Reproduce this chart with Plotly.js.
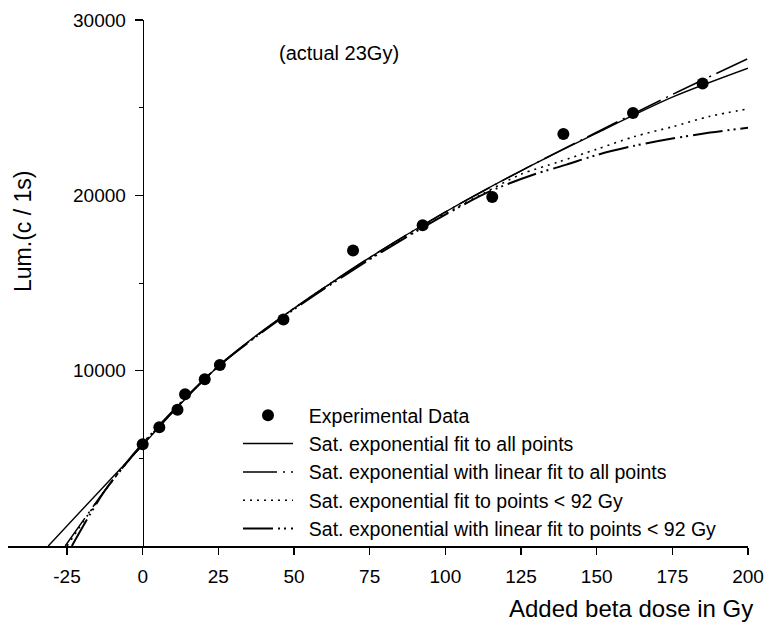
<!DOCTYPE html>
<html>
<head>
<meta charset="utf-8">
<script src="https://cdn.plot.ly/plotly-3.0.1.min.js"></script>
<style>
  html, body { margin: 0; padding: 0; background: #fff; }
  #chart { width: 770px; height: 633px; }
</style>
</head>
<body>
<div id="chart"></div>
<script>
// Measured luminescence against added beta dose
const doseData = [0, 5.5, 11.5, 14, 20.5, 25.5, 46.5, 69.5, 92.5, 115.5, 139, 162, 185];
const lumData  = [5800, 6770, 7770, 8660, 9510, 10320, 12920, 16850, 18300, 19910, 23500, 24690, 26380];

// Saturating exponential fitted to all points
const fitAllDose = [-31.2, -15, 0, 12.5, 25, 37.5, 50, 75, 100, 125, 150, 175, 200];
const fitAllLum  = [0, 3000, 5750, 8100, 10250, 12000, 13550, 16450, 19050, 21400, 23550, 25600, 27250];

// Saturating exponential plus linear term, fitted to all points
const fitLinAllDose = [-25.6, -10.8, 0, 12.5, 25, 50, 75, 100, 125, 150, 175, 200];
const fitLinAllLum  = [0, 3560, 5800, 8150, 10250, 13550, 16450, 19050, 21400, 23600, 25750, 27800];

// Saturating exponential fitted to points below 92 Gy
const fitLowDose = [-25, -12.5, 0, 25, 50, 75, 100, 112.5, 125, 137.5, 150, 162.5, 175, 187.5, 200];
const fitLowLum  = [0, 3150, 5800, 10250, 13550, 16400, 18950, 20100, 21200, 21910, 22630, 23350, 23910, 24510, 24930];

// Saturating exponential plus linear term, fitted to points below 92 Gy
const fitLinLowDose = [-23.4, -12.8, 0, 25, 50, 75, 100, 115, 130, 140, 150, 162.5, 175, 187.5, 200];
const fitLinLowLum  = [0, 3080, 5850, 10250, 13500, 16350, 18900, 20250, 21230, 21750, 22300, 22830, 23240, 23580, 23850];

const xTicks = [-25, 0, 25, 50, 75, 100, 125, 150, 175, 200];
const yTicks = [10000, 20000, 30000];

const FONT = 'Liberation Sans, Arial, Helvetica, sans-serif';
const X_RANGE = [-44.5, 200];
const PAD = '\u00a0\u00a0';

const traces = [
  {
    x: doseData, y: lumData, type: 'scatter', mode: 'markers',
    name: PAD + 'Experimental Data',
    marker: { color: '#000', size: 12 }
  },
  {
    x: fitAllDose, y: fitAllLum, type: 'scatter', mode: 'lines',
    name: PAD + 'Sat. exponential fit to all points',
    line: { color: '#000', width: 1.4, shape: 'spline', smoothing: 0.8 }
  },
  {
    x: fitLinAllDose, y: fitLinAllLum, type: 'scatter', mode: 'lines',
    name: PAD + 'Sat. exponential with linear fit to all points',
    line: { color: '#000', width: 1.5, shape: 'spline', smoothing: 0.8, dash: '34px,6px,2px,6px' }
  },
  {
    x: fitLowDose, y: fitLowLum, type: 'scatter', mode: 'lines',
    name: PAD + 'Sat. exponential fit to points < 92 Gy',
    line: { color: '#000', width: 1.6, shape: 'spline', smoothing: 0.8, dash: '2px,5px' }
  },
  {
    x: fitLinLowDose, y: fitLinLowLum, type: 'scatter', mode: 'lines',
    name: PAD + 'Sat. exponential with linear fit to points < 92 Gy',
    line: { color: '#000', width: 2, shape: 'spline', smoothing: 0.8, dash: '30px,5px,2px,4px,2px,5px' }
  }
];

const layout = {
  width: 770, height: 633,
  margin: { l: 8, r: 22, t: 20, b: 87 },
  paper_bgcolor: '#fff', plot_bgcolor: '#fff',
  font: { family: FONT, size: 19, color: '#000' },
  showlegend: true,
  legend: {
    x: (238 - 8) / 740, y: (546 - 396) / 526,
    xanchor: 'left', yanchor: 'top',
    bgcolor: 'rgba(0,0,0,0)', borderwidth: 0,
    font: { family: FONT, size: 19.5, color: '#000' },
    traceorder: 'normal',
    itemwidth: 50
  },
  xaxis: {
    range: X_RANGE, tickvals: xTicks, ticktext: xTicks.map(String),
    showline: true, linecolor: '#000', linewidth: 1.6,
    ticks: 'outside', ticklen: 7, tickwidth: 1.4, tickcolor: '#000',
    ticklabelstandoff: 6,
    showgrid: false, zeroline: false,
    tickfont: { family: FONT, size: 19, color: '#000' }
  },
  yaxis: {
    range: [0, 30000], tickvals: yTicks, ticktext: yTicks.map(String),
    anchor: 'free', position: (0 - X_RANGE[0]) / (X_RANGE[1] - X_RANGE[0]),
    showline: true, linecolor: '#000', linewidth: 1.6,
    ticks: 'outside', ticklen: 8, tickwidth: 1.4, tickcolor: '#000',
    ticklabelstandoff: 5,
    minor: { ticks: 'outside', dtick: 5000, ticklen: 4, tickwidth: 1, tickcolor: '#000' },
    showgrid: false, zeroline: false,
    tickfont: { family: FONT, size: 19, color: '#000' }
  },
  annotations: [
    {
      text: 'Lum.(c / 1s)', xref: 'paper', yref: 'paper',
      x: (23 - 8) / 740, y: (546 - 232) / 526, textangle: -90,
      showarrow: false, xanchor: 'center', yanchor: 'middle',
      font: { family: FONT, size: 23, color: '#000' }
    },
    {
      text: 'Added beta dose in Gy', xref: 'paper', yref: 'paper',
      x: (755 - 8) / 740, y: (546 - 608) / 526,
      showarrow: false, xanchor: 'right', yanchor: 'middle',
      font: { family: FONT, size: 24, color: '#000' }
    },
    {
      text: '(actual 23Gy)', xref: 'x', yref: 'paper',
      x: 65, y: (546 - 53) / 526,
      showarrow: false, xanchor: 'center', yanchor: 'middle',
      font: { family: FONT, size: 20, color: '#000' }
    }
  ]
};

Plotly.newPlot('chart', traces, layout, { staticPlot: true, displayModeBar: false });
</script>
</body>
</html>
